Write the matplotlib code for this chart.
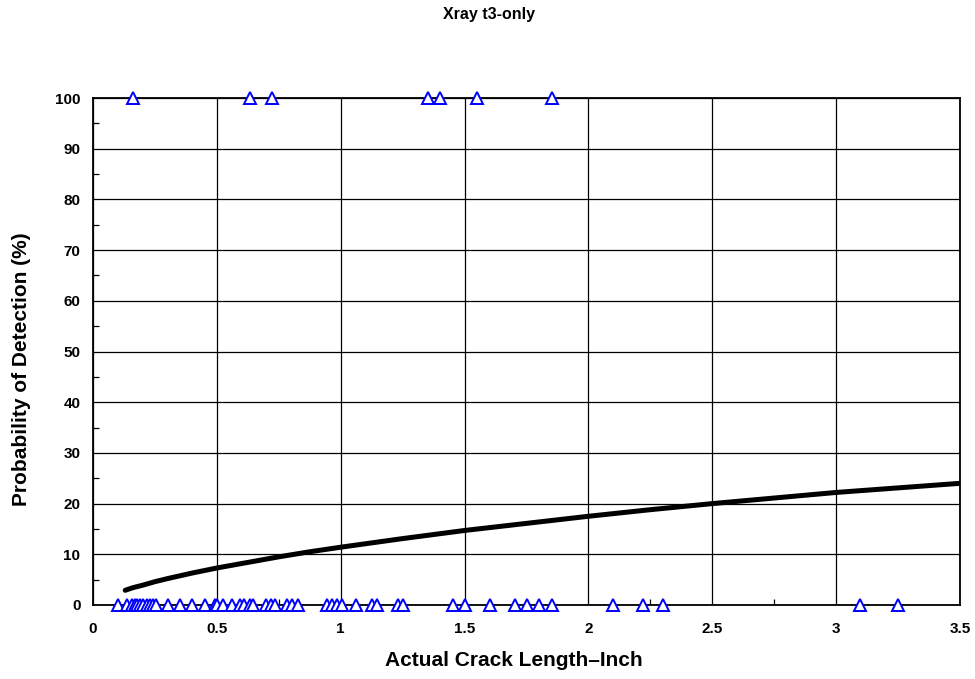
import matplotlib
matplotlib.use("Agg")
import matplotlib.pyplot as plt
from matplotlib.ticker import MultipleLocator, FuncFormatter

plt.rcParams['font.family'] = ['Liberation Sans', 'DejaVu Sans']
plt.rcParams['font.weight'] = 'bold'

# Detected (hit) cracks, POD = 100
hit_length = [0.163, 0.634, 0.721, 1.354, 1.401, 1.549, 1.852]
hit_pod = [100] * len(hit_length)

# Missed cracks, POD = 0
miss_length = [0.102, 0.136, 0.156, 0.170, 0.179, 0.190, 0.203, 0.219, 0.230,
               0.243, 0.254, 0.304, 0.351, 0.398, 0.452, 0.493, 0.502, 0.526,
               0.560, 0.593, 0.610, 0.634, 0.647, 0.700, 0.720, 0.735, 0.782,
               0.802, 0.829, 0.943, 0.964, 0.984, 1.004, 1.060, 1.125, 1.145,
               1.233, 1.253, 1.452, 1.502, 1.603, 1.704, 1.751, 1.802, 1.852,
               2.100, 2.222, 2.300, 3.097, 3.250]
miss_pod = [0] * len(miss_length)

# Fitted POD curve
curve_length = [0.13, 0.16, 0.2, 0.25, 0.3, 0.4, 0.5, 0.625, 0.75, 0.875, 1.0,
                1.25, 1.5, 1.75, 2.0, 2.25, 2.5, 2.75, 3.0, 3.25, 3.5]
curve_pod = [2.9, 3.4, 3.9, 4.6, 5.2, 6.3, 7.3, 8.4, 9.5, 10.5, 11.4,
             13.1, 14.7, 16.1, 17.5, 18.8, 20.0, 21.1, 22.2, 23.1, 24.0]

x_ticks = [0, 0.5, 1, 1.5, 2, 2.5, 3, 3.5]
y_ticks = [0, 10, 20, 30, 40, 50, 60, 70, 80, 90, 100]

fig = plt.figure(figsize=(9.75, 6.79), dpi=100)
ax = fig.add_axes([93/975, 1-605/679, (960-93)/975, (605-98)/679])

ax.set_xlim(0, 3.5)
ax.set_ylim(0, 100)
ax.set_xticks(x_ticks)
ax.set_yticks(y_ticks)
ax.xaxis.set_minor_locator(MultipleLocator(0.25))
ax.yaxis.set_minor_locator(MultipleLocator(5))
ax.xaxis.set_major_formatter(FuncFormatter(lambda v, p: f"{v:g}"))

ax.grid(True, which='major', color='black', linewidth=0.9)
ax.set_axisbelow(True)
ax.tick_params(which='both', direction='in', top=False, right=False)
ax.tick_params(which='major', length=0, labelsize=11)
ax.tick_params(which='minor', length=4, width=0.9)
ax.tick_params(axis='x', which='major', pad=12)
ax.tick_params(axis='y', which='major', pad=9)
for s in ax.spines.values():
    s.set_linewidth(1.3)
    s.set_color('black')

ax.plot(curve_length, curve_pod, color='black', linewidth=3.6,
        solid_capstyle='round', solid_joinstyle='round', zorder=3)
ax.plot(miss_length, miss_pod, linestyle='none', marker='^', markersize=8.5,
        markerfacecolor='white', markeredgecolor='#0000FF', markeredgewidth=1.4,
        clip_on=False, zorder=4)
ax.plot(hit_length, hit_pod, linestyle='none', marker='^', markersize=8.5,
        markerfacecolor='white', markeredgecolor='#0000FF', markeredgewidth=1.4,
        clip_on=False, zorder=4)

ax.set_xlabel('Actual Crack Length\u2013Inch', fontsize=15, fontweight='bold')
ax.xaxis.label.set_va('center')
ax.xaxis.set_label_coords((514-93)/867, (605-661)/507)
ax.set_ylabel('Probability of Detection (%)', fontsize=15, fontweight='bold')
ax.yaxis.label.set_va('center')
ax.yaxis.set_label_coords((22-93)/867, (605-369)/507)
fig.text(489/975, 1-14/679, 'Xray t3-only', ha='center', va='center',
         fontsize=11.5, fontweight='bold')

fig.savefig('out.png', dpi=100)
